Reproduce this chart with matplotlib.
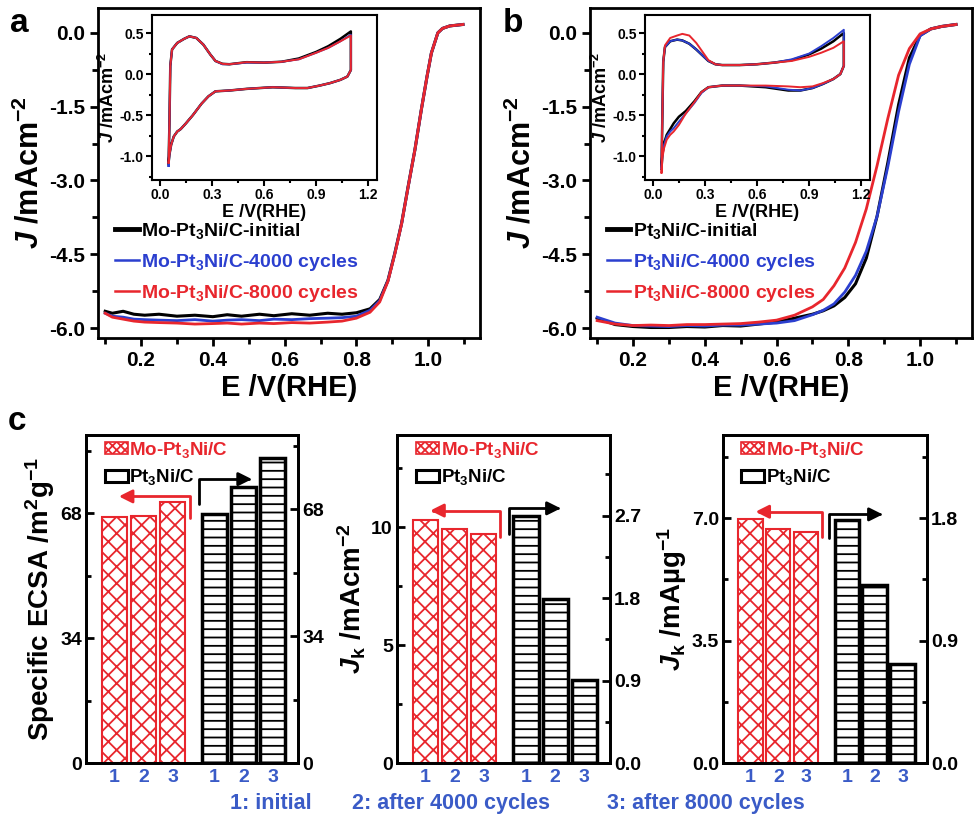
import matplotlib
matplotlib.use('Agg')
import matplotlib.pyplot as plt
from matplotlib.ticker import MultipleLocator, FormatStrFormatter
from matplotlib.lines import Line2D
from matplotlib.patches import Patch

plt.rcParams['font.family'] = ['Liberation Sans', 'DejaVu Sans']
plt.rcParams['font.weight'] = 'bold'
plt.rcParams['axes.labelweight'] = 'bold'
plt.rcParams['mathtext.fontset'] = 'custom'
plt.rcParams['mathtext.rm'] = 'Liberation Sans:bold'
plt.rcParams['mathtext.it'] = 'Liberation Sans:italic:bold'
plt.rcParams['mathtext.bf'] = 'Liberation Sans:bold'
plt.rcParams['mathtext.default'] = 'rm'
plt.rcParams['axes.unicode_minus'] = False
plt.rcParams['hatch.linewidth'] = 1.3

RED = '#e8262d'
BLUE = '#2b3fcf'
TXTBLUE = '#3a5bc7'

# ---- panel a: LSV of Mo-Pt3Ni/C ----
E_a = [0.10, 0.12, 0.15, 0.18, 0.21, 0.25, 0.30, 0.35, 0.40, 0.44, 0.48, 0.53, 0.57, 0.62, 0.67,
       0.72, 0.76, 0.80, 0.838, 0.865, 0.888, 0.907, 0.926, 0.944, 0.963, 0.981, 0.997, 1.009,
       1.027, 1.04, 1.06, 1.097]
J_a_init = [-5.66, -5.70, -5.66, -5.72, -5.74, -5.72, -5.76, -5.74, -5.77, -5.73, -5.76, -5.72, -5.75,
            -5.71, -5.74, -5.70, -5.72, -5.69, -5.61, -5.42, -5.03, -4.48, -3.87, -3.13, -2.38, -1.56,
            -0.88, -0.41, 0.0, 0.09, 0.14, 0.17]
J_a_4000 = [-5.70, -5.76, -5.78, -5.82, -5.83, -5.84, -5.85, -5.83, -5.86, -5.84, -5.83, -5.85, -5.82,
            -5.83, -5.81, -5.80, -5.79, -5.76, -5.64, -5.44, -5.04, -4.49, -3.88, -3.14, -2.38, -1.56,
            -0.88, -0.41, 0.0, 0.09, 0.14, 0.17]
J_a_8000 = [-5.70, -5.78, -5.82, -5.86, -5.88, -5.89, -5.90, -5.92, -5.91, -5.90, -5.92, -5.90, -5.91,
            -5.89, -5.90, -5.88, -5.86, -5.80, -5.68, -5.47, -5.05, -4.50, -3.88, -3.14, -2.38, -1.56,
            -0.88, -0.41, 0.0, 0.09, 0.14, 0.17]

# ---- panel b: LSV of Pt3Ni/C ----
E_b = [0.10, 0.15, 0.20, 0.25, 0.30, 0.35, 0.40, 0.45, 0.50, 0.55, 0.60, 0.65, 0.70, 0.73, 0.76,
       0.79, 0.82, 0.85, 0.88, 0.91, 0.94, 0.97, 1.00, 1.03, 1.06, 1.10]
J_b_init = [-5.80, -5.93, -5.97, -5.99, -5.99, -5.97, -5.98, -5.95, -5.96, -5.92, -5.88, -5.80,
            -5.72, -5.65, -5.55, -5.38, -5.10, -4.58, -3.73, -2.64, -1.46, -0.51, -0.05, 0.08, 0.13, 0.17]
J_b_4000 = [-5.78, -5.90, -5.95, -5.96, -5.97, -5.95, -5.96, -5.94, -5.94, -5.92, -5.90, -5.85,
            -5.73, -5.64, -5.51, -5.27, -4.93, -4.44, -3.73, -2.72, -1.60, -0.64, -0.06, 0.08, 0.13, 0.17]
J_b_8000 = [-5.85, -5.92, -5.95, -5.94, -5.95, -5.93, -5.93, -5.92, -5.91, -5.88, -5.84, -5.74,
            -5.57, -5.42, -5.14, -4.78, -4.26, -3.58, -2.70, -1.74, -0.86, -0.32, -0.02, 0.08, 0.13, 0.17]

# ---- insets: CV loops ----
E_cv = [0.05, 0.055, 0.06, 0.07, 0.10, 0.14, 0.17, 0.21, 0.25, 0.29, 0.32, 0.36, 0.40, 0.50, 0.60,
        0.70, 0.80, 0.90, 0.97, 1.04, 1.10, 1.10, 1.10, 1.08, 1.04, 0.98, 0.92, 0.85, 0.78, 0.65,
        0.50, 0.40, 0.32, 0.28, 0.24, 0.19, 0.15, 0.12, 0.10, 0.08, 0.065, 0.055, 0.05]
cv_a_init = [-1.10, -0.60, 0.10, 0.30, 0.38, 0.43, 0.46, 0.44, 0.36, 0.24, 0.16, 0.125, 0.12, 0.145, 0.14,
             0.15, 0.19, 0.27, 0.34, 0.43, 0.52, 0.25, 0.05, -0.03, -0.07, -0.11, -0.14, -0.17, -0.17, -0.16,
             -0.18, -0.20, -0.21, -0.27, -0.36, -0.50, -0.60, -0.67, -0.70, -0.76, -0.86, -0.98, -1.08]
cv_a_4000 = [-1.12, -0.60, 0.10, 0.30, 0.38, 0.43, 0.46, 0.44, 0.36, 0.24, 0.16, 0.12, 0.12, 0.14, 0.14,
             0.15, 0.18, 0.26, 0.32, 0.40, 0.48, 0.25, 0.05, -0.03, -0.07, -0.11, -0.14, -0.17, -0.17, -0.16,
             -0.18, -0.20, -0.21, -0.27, -0.36, -0.50, -0.60, -0.67, -0.70, -0.76, -0.86, -0.98, -1.12]
cv_a_8000 = [-1.08, -0.60, 0.10, 0.30, 0.38, 0.43, 0.46, 0.44, 0.36, 0.24, 0.16, 0.125, 0.12, 0.145, 0.14,
             0.15, 0.18, 0.26, 0.32, 0.40, 0.47, 0.25, 0.05, -0.03, -0.07, -0.11, -0.14, -0.17, -0.17, -0.16,
             -0.18, -0.20, -0.21, -0.27, -0.36, -0.50, -0.60, -0.67, -0.70, -0.76, -0.86, -0.98, -1.08]
cv_b_init = [-1.15, -0.50, 0.15, 0.33, 0.40, 0.42, 0.41, 0.37, 0.30, 0.22, 0.16, 0.12, 0.11, 0.11, 0.12,
             0.14, 0.17, 0.24, 0.31, 0.40, 0.50, 0.30, 0.10, 0.0, -0.06, -0.12, -0.17, -0.20, -0.20, -0.16,
             -0.14, -0.14, -0.16, -0.22, -0.33, -0.45, -0.52, -0.60, -0.67, -0.74, -0.84, -0.98, -1.15]
cv_b_4000 = [-1.15, -0.50, 0.15, 0.33, 0.40, 0.42, 0.41, 0.37, 0.30, 0.22, 0.16, 0.12, 0.11, 0.11, 0.12,
             0.14, 0.18, 0.25, 0.34, 0.44, 0.54, 0.30, 0.10, 0.0, -0.06, -0.12, -0.17, -0.20, -0.19, -0.15,
             -0.14, -0.14, -0.16, -0.23, -0.35, -0.48, -0.58, -0.66, -0.70, -0.76, -0.86, -1.00, -1.15]
cv_b_8000 = [-1.20, -0.50, 0.15, 0.35, 0.44, 0.47, 0.49, 0.47, 0.38, 0.26, 0.17, 0.12, 0.11, 0.11, 0.12,
             0.14, 0.16, 0.21, 0.26, 0.32, 0.40, 0.25, 0.10, 0.0, -0.06, -0.11, -0.15, -0.16, -0.15, -0.14,
             -0.14, -0.14, -0.16, -0.22, -0.34, -0.48, -0.62, -0.70, -0.74, -0.80, -0.90, -1.02, -1.20]

# ---- panel c: bar charts ----
cycle_labels = ['1', '2', '3']
ecsa_mo = [67.1, 67.3, 71.2]
ecsa_pt = [66.7, 73.9, 81.7]
jk_area_mo = [10.3, 9.9, 9.7]
jk_area_pt = [2.70, 1.79, 0.91]
jk_mass_mo = [6.97, 6.69, 6.60]
jk_mass_pt = [1.785, 1.31, 0.73]

fig = plt.figure(figsize=(9.8, 8.24), dpi=100)


def style_lsv(ax):
    ax.set_xlim(0.08, 1.145)
    ax.set_ylim(-6.2, 0.5)
    ax.xaxis.set_major_locator(MultipleLocator(0.2))
    ax.xaxis.set_minor_locator(MultipleLocator(0.1))
    ax.yaxis.set_major_locator(MultipleLocator(1.5))
    ax.yaxis.set_minor_locator(MultipleLocator(0.75))
    ax.xaxis.set_major_formatter(FormatStrFormatter('%.1f'))
    ax.yaxis.set_major_formatter(FormatStrFormatter('%.1f'))
    ax.tick_params(which='both', direction='out', top=False, right=False, width=2)
    ax.tick_params(which='major', length=6, labelsize=15)
    ax.tick_params(which='minor', length=4)
    for s in ax.spines.values():
        s.set_linewidth(2)
    ax.set_xlabel('E /V(RHE)', fontsize=21, labelpad=3)
    ax.set_ylabel(r'$\mathit{J}$ /mAcm$^{-2}$', fontsize=22, labelpad=2)


def style_inset(ax):
    ax.set_xlim(-0.046, 1.25)
    ax.set_ylim(-1.29, 0.72)
    ax.xaxis.set_major_locator(MultipleLocator(0.3))
    ax.xaxis.set_minor_locator(MultipleLocator(0.15))
    ax.yaxis.set_major_locator(MultipleLocator(0.5))
    ax.yaxis.set_minor_locator(MultipleLocator(0.25))
    ax.xaxis.set_major_formatter(FormatStrFormatter('%.1f'))
    ax.yaxis.set_major_formatter(FormatStrFormatter('%.1f'))
    ax.tick_params(which='both', direction='out', top=False, right=False, width=1.5)
    ax.tick_params(which='major', length=4, labelsize=10, pad=2)
    ax.tick_params(which='minor', length=2.5)
    for s in ax.spines.values():
        s.set_linewidth(1.5)
    ax.set_xlabel('E /V(RHE)', fontsize=13, labelpad=1)
    ax.set_ylabel(r'$\mathit{J}$ /mAcm$^{-2}$', fontsize=13)
    ax.yaxis.set_label_coords(-0.15, 0.5)


ax_a = fig.add_axes([0.100, 0.590, 0.390, 0.400])
ax_b = fig.add_axes([0.602, 0.590, 0.390, 0.400])
in_a = fig.add_axes([0.155, 0.7816, 0.2296, 0.2002])
in_b = fig.add_axes([0.658, 0.7816, 0.2296, 0.2002])

ax_a.plot(E_a, J_a_init, color='black', lw=2.2)
ax_a.plot(E_a, J_a_4000, color=BLUE, lw=2.0)
ax_a.plot(E_a, J_a_8000, color=RED, lw=2.0)
ax_b.plot(E_b, J_b_init, color='black', lw=2.2)
ax_b.plot(E_b, J_b_4000, color=BLUE, lw=2.0)
ax_b.plot(E_b, J_b_8000, color=RED, lw=2.0)
style_lsv(ax_a)
style_lsv(ax_b)

in_a.plot(E_cv, cv_a_init, color='black', lw=1.8)
in_a.plot(E_cv, cv_a_4000, color=BLUE, lw=1.4)
in_a.plot(E_cv, cv_a_8000, color=RED, lw=1.4)
in_b.plot(E_cv, cv_b_init, color='black', lw=1.8)
in_b.plot(E_cv, cv_b_4000, color=BLUE, lw=1.4)
in_b.plot(E_cv, cv_b_8000, color=RED, lw=1.4)
style_inset(in_a)
style_inset(in_b)

for ax, name in [(ax_a, 'Mo-Pt$_3$Ni/C'), (ax_b, 'Pt$_3$Ni/C')]:
    handles = [Line2D([], [], color='black', lw=3.5),
               Line2D([], [], color=BLUE, lw=1.8),
               Line2D([], [], color=RED, lw=1.8)]
    labels = [name + '-initial', name + '-4000 cycles', name + '-8000 cycles']
    leg = ax.legend(handles, labels, loc='upper left', bbox_to_anchor=(0.045, 0.355),
                    frameon=False, borderpad=0, borderaxespad=0, handlelength=1.2,
                    handletextpad=0.15, labelspacing=0.55, fontsize=14)
    for t, c in zip(leg.get_texts(), ['black', BLUE, RED]):
        t.set_color(c)

fig.text(0.010, 0.972, 'a', fontsize=24, fontweight='bold', va='center')
fig.text(0.513, 0.972, 'b', fontsize=24, fontweight='bold', va='center')
fig.text(0.008, 0.488, 'c', fontsize=24, fontweight='bold', va='center')

# bar panels
pos_mo = [0, 1, 2]
pos_pt = [3.45, 4.45, 5.45]
bar_w = 0.87

c_specs = [
    # rect, left data, right data, left ylim, right ylim, left step, right step, left fmt, right fmt, ylabel, arrows
    ([0.0878, 0.074, 0.2163, 0.398], ecsa_mo, ecsa_pt, 89.3, 87.8, 34, 34, '%d', '%d',
     r'Specific ECSA /m$^2$g$^{-1}$', (2.6, 66.6, 72.6, 0.15), (2.91, 69.3, 76.0, 4.74)),
    ([0.4051, 0.074, 0.2173, 0.398], jk_area_mo, jk_area_pt, 13.9, 3.58, 5, 0.9, '%d', '%.1f',
     r'$\mathit{J}_{\mathrm{k}}$ /mAcm$^{-2}$', (2.57, 9.6, 10.7, 0.16), (2.88, 2.50, 2.78, 4.64)),
    ([0.7378, 0.074, 0.2082, 0.398], jk_mass_mo, jk_mass_pt, 9.37, 2.41, 3.5, 0.9, '%.1f', '%.1f',
     r'$\mathit{J}_{\mathrm{k}}$ /mAµg$^{-1}$', (2.55, 6.47, 7.18, 0.18), (2.80, 1.656, 1.827, 4.74)),
]

for (rect, mo, pt, ytop_l, ytop_r, step_l, step_r, fmt_l, fmt_r, ylab, arr_r, arr_k) in c_specs:
    ax = fig.add_axes(rect)
    ax2 = ax.twinx()
    ax.bar(pos_mo, mo, width=bar_w, color='white', edgecolor=RED, hatch='xx', lw=1.5)
    ax2.bar(pos_pt, pt, width=bar_w, color='white', edgecolor='black', hatch='--', lw=2.5)
    ax.set_xlim(-0.98, 6.33)
    ax.set_ylim(0, ytop_l)
    ax2.set_ylim(0, ytop_r)
    ax.set_xticks(pos_mo + pos_pt)
    ax.set_xticklabels(cycle_labels * 2, color=TXTBLUE, fontsize=14)
    ax.tick_params(axis='x', length=0, pad=4)
    ax.yaxis.set_major_locator(MultipleLocator(step_l))
    ax.yaxis.set_minor_locator(MultipleLocator(step_l / 2))
    ax.yaxis.set_major_formatter(FormatStrFormatter(fmt_l))
    ax2.yaxis.set_major_locator(MultipleLocator(step_r))
    ax2.yaxis.set_minor_locator(MultipleLocator(step_r / 2))
    ax2.yaxis.set_major_formatter(FormatStrFormatter(fmt_r))
    for a in (ax, ax2):
        a.tick_params(axis='y', which='both', direction='in', width=2)
        a.tick_params(axis='y', which='major', length=6, labelsize=14, pad=3)
        a.tick_params(axis='y', which='minor', length=3.5)
        for s in a.spines.values():
            s.set_linewidth(2)
    ax.set_ylabel(ylab, fontsize=20, labelpad=2)

    x0, yb, yt, xe = arr_r
    ax.annotate('', xy=(xe, yt), xytext=(x0, yb),
                arrowprops=dict(arrowstyle='-|>', color=RED, lw=2, mutation_scale=20,
                                shrinkA=0, shrinkB=0,
                                connectionstyle='angle,angleA=90,angleB=0,rad=0'))
    x0, yb, yt, xe = arr_k
    ax2.annotate('', xy=(xe, yt), xytext=(x0, yb),
                 arrowprops=dict(arrowstyle='-|>', color='black', lw=2, mutation_scale=20,
                                 shrinkA=0, shrinkB=0,
                                 connectionstyle='angle,angleA=90,angleB=0,rad=0'))

    handles = [Patch(facecolor='white', edgecolor=RED, hatch='xxxx', lw=1.2),
               Patch(facecolor='white', edgecolor='black', hatch='', lw=2.2)]
    leg = ax2.legend(handles, ['Mo-Pt$_3$Ni/C', 'Pt$_3$Ni/C'], loc='upper left',
                     bbox_to_anchor=(0.09, 0.985), frameon=False, borderpad=0,
                     borderaxespad=0, handlelength=1.2, handleheight=0.6,
                     handletextpad=0.1, labelspacing=0.4, fontsize=13.5)
    for t, c in zip(leg.get_texts(), [RED, 'black']):
        t.set_color(c)

fig.text(0.235, 0.025, '1: initial', color=TXTBLUE, fontsize=15.5, fontweight='bold', va='center')
fig.text(0.359, 0.025, '2: after 4000 cycles', color=TXTBLUE, fontsize=15.5, fontweight='bold', va='center')
fig.text(0.619, 0.025, '3: after 8000 cycles', color=TXTBLUE, fontsize=15.5, fontweight='bold', va='center')

fig.savefig('out.png', dpi=100)
